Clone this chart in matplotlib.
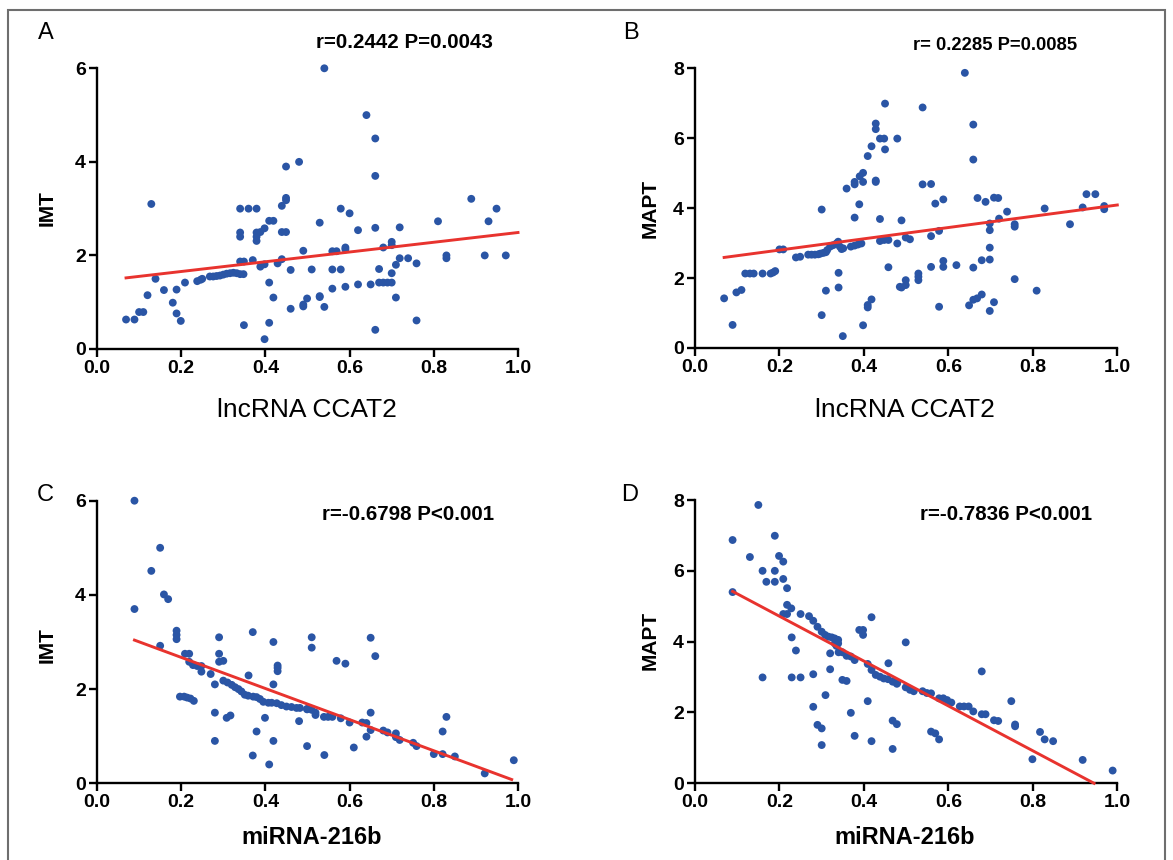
import matplotlib
matplotlib.use("Agg")
import matplotlib.pyplot as plt
from matplotlib import font_manager
from matplotlib.patches import Rectangle

# ---------------- data ----------------
x_ticks = [0.0, 0.2, 0.4, 0.6, 0.8, 1.0]
x_tick_labels = ["0.0", "0.2", "0.4", "0.6", "0.8", "1.0"]
imt_ticks = [0, 2, 4, 6]
mapt_ticks = [0, 2, 4, 6, 8]

a_x = [0.069,0.089,0.100,0.110,0.120,0.129,0.139,0.159,0.180,0.189,0.189,0.199,0.209,0.238,0.246,0.250,
       0.268,0.276,0.284,0.292,0.300,0.308,0.316,0.324,0.332,0.340,0.348,
       0.340,0.360,0.379,0.340,0.340,0.340,0.349,0.349,0.370,0.379,0.379,0.379,0.388,0.398,0.388,0.398,
       0.409,0.419,0.398,0.409,0.409,0.419,0.429,0.439,0.439,0.449,0.439,0.449,0.449,0.449,0.480,0.460,0.460,0.490,0.490,0.490,0.499,
       0.540,0.640,0.661,0.661,0.889,0.579,0.600,0.949,0.529,0.620,0.661,0.719,0.810,0.930,0.559,0.569,
       0.590,0.590,0.680,0.700,0.700,0.719,0.739,0.759,0.830,0.830,0.921,0.971,0.510,0.559,0.579,0.670,
       0.710,0.700,0.670,0.680,0.690,0.700,0.650,0.620,0.590,0.559,0.529,0.529,0.540,0.710,0.661,0.759]
a_y = [0.63,0.63,0.79,0.79,1.15,3.10,1.50,1.26,0.99,1.27,0.76,0.60,1.42,1.45,1.48,1.50,
       1.55,1.55,1.56,1.57,1.59,1.61,1.62,1.63,1.62,1.60,1.60,
       3.00,3.00,3.00,2.49,2.40,1.87,1.87,0.51,1.90,2.49,2.40,2.31,2.50,2.58,1.76,1.81,
       2.74,2.74,0.21,1.42,0.56,1.10,1.83,1.92,2.50,2.50,3.06,3.18,3.23,3.90,4.00,1.69,0.86,2.10,0.91,0.95,1.08,
       6.00,5.00,4.50,3.70,3.21,3.00,2.90,3.00,2.70,2.54,2.59,2.60,2.73,2.73,2.09,2.09,
       2.17,2.13,2.17,2.29,2.22,1.94,1.94,1.83,2.00,1.94,2.00,2.00,1.70,1.70,1.70,1.71,
       1.80,1.62,1.42,1.42,1.42,1.42,1.38,1.38,1.33,1.29,1.13,1.11,0.90,1.10,0.41,0.61]

b_x = [0.069,0.089,0.098,0.110,0.119,0.130,0.139,0.160,0.179,0.185,0.190,0.200,0.209,0.239,0.249,
       0.268,0.276,0.284,0.292,0.297,0.304,0.310,
       0.313,0.320,0.327,0.335,0.339,0.343,0.347,0.351,
       0.300,0.300,0.310,0.340,0.340,0.350,0.359,0.369,0.378,0.386,0.394,0.378,0.378,0.378,0.389,0.390,0.398,0.398,0.398,
       0.409,0.409,0.409,0.418,0.418,0.428,0.428,0.428,0.428,0.438,0.448,0.450,0.450,0.438,0.438,0.448,0.458,0.458,0.479,0.479,0.485,
       0.639,0.539,0.659,0.659,0.539,0.559,0.669,0.688,0.708,0.718,0.569,0.588,0.828,0.927,0.948,0.918,0.969,0.969,
       0.739,0.720,0.698,0.698,0.757,0.757,0.888,0.489,0.499,0.509,0.559,0.578,0.588,0.588,0.559,0.619,0.659,0.679,0.698,0.698,
       0.529,0.529,0.529,0.499,0.499,0.489,0.757,0.809,0.649,0.659,0.668,0.679,0.698,0.708,0.578]
b_y = [1.42,0.66,1.59,1.66,2.13,2.13,2.13,2.13,2.13,2.16,2.20,2.82,2.82,2.59,2.61,
       2.67,2.67,2.67,2.68,2.70,2.72,2.74,
       2.80,2.90,2.94,2.99,3.04,2.90,2.83,2.85,
       3.96,0.94,1.64,2.15,1.73,0.34,4.56,2.90,2.93,2.96,2.99,3.73,4.75,4.68,4.11,4.91,5.01,4.75,0.65,
       5.49,1.23,1.16,5.77,1.39,6.42,6.26,4.79,4.75,5.99,5.99,6.99,5.68,3.69,3.06,3.09,3.09,2.31,5.99,2.99,1.75,
       7.87,6.88,6.39,5.39,4.68,4.69,4.29,4.18,4.30,4.29,4.13,4.25,3.99,4.40,4.40,4.02,4.06,3.97,
       3.90,3.70,3.56,3.37,3.54,3.47,3.54,3.65,3.16,3.11,3.20,3.35,2.49,2.32,2.32,2.37,2.30,2.51,2.53,2.87,
       2.13,2.04,1.94,1.94,1.80,1.73,1.97,1.64,1.22,1.38,1.42,1.53,1.06,1.31,1.18]

c_x = [0.089,0.089,0.150,0.129,0.159,0.169,0.189,0.189,0.189,0.150,0.209,0.219,0.219,0.228,0.238,0.248,0.248,0.270,
       0.197,0.207,0.214,0.222,0.230,
       0.280,0.280,0.280,0.290,0.290,0.290,0.300,0.308,0.317,
       0.300,0.310,0.320,0.328,0.336,0.343,0.351,0.359,0.371,0.379,0.387,0.395,0.407,0.415,0.427,0.438,0.450,0.462,0.474,0.482,0.499,
       0.360,0.370,0.370,0.379,0.399,0.409,0.419,0.419,0.419,0.429,0.429,0.429,0.480,0.499,
       0.510,0.510,0.569,0.590,0.650,0.661,0.499,0.510,0.519,0.519,0.539,0.549,0.559,0.579,0.600,0.630,0.640,
       0.650,0.650,0.640,0.680,0.690,0.710,0.710,0.719,0.751,0.759,0.540,0.610,0.800,0.821,0.821,0.830,0.850,0.921,0.990]
c_y = [6.00,3.70,5.00,4.51,4.01,3.91,3.24,3.15,3.06,2.92,2.75,2.75,2.58,2.51,2.49,2.49,2.37,2.32,
       1.84,1.84,1.82,1.80,1.75,
       2.10,1.50,0.90,3.10,2.75,2.58,2.60,1.39,1.44,
       2.18,2.14,2.09,2.04,2.00,1.95,1.88,1.86,1.84,1.83,1.79,1.73,1.71,1.71,1.70,1.66,1.63,1.62,1.60,1.60,1.57,
       2.29,3.21,0.59,1.10,1.39,0.40,3.00,2.10,0.90,2.50,2.45,2.38,1.32,0.79,
       3.10,2.88,2.60,2.54,3.09,2.70,1.58,1.56,1.50,1.45,1.41,1.41,1.41,1.38,1.29,1.29,1.28,
       1.50,1.13,0.99,1.12,1.08,1.06,0.98,0.92,0.86,0.79,0.60,0.76,0.62,0.62,1.10,1.41,0.57,0.21,0.49]

d_x = [0.089,0.089,0.150,0.130,0.160,0.169,0.160,0.189,0.189,0.189,0.199,0.209,0.209,0.218,0.218,0.228,0.209,0.218,
       0.229,0.239,0.229,0.250,0.250,0.270,0.280,0.290,0.300,
       0.308,0.316,0.324,0.331,0.339,0.339,0.331,0.335,
       0.320,0.320,0.280,0.280,0.290,0.300,0.300,0.309,0.340,0.349,0.349,0.359,0.359,0.369,0.378,0.369,0.378,
       0.389,0.398,0.398,0.409,0.418,0.428,0.438,0.447,0.457,0.468,0.478,
       0.409,0.418,0.418,0.458,0.468,0.478,0.468,
       0.499,0.470,0.479,0.499,0.509,0.518,0.539,0.549,0.559,0.578,0.588,0.597,0.607,0.627,0.637,0.648,0.659,
       0.679,0.679,0.688,0.708,0.718,0.749,0.758,0.758,0.817,0.828,0.848,0.799,0.918,0.989,0.559,0.569,0.578]
d_y = [6.87,5.40,7.86,6.39,6.00,5.69,2.99,6.99,6.00,5.69,6.42,6.26,5.77,5.51,5.04,4.94,4.78,4.78,
       4.12,3.75,2.99,2.99,4.78,4.72,4.59,4.42,4.28,
       4.19,4.14,4.12,4.09,4.05,3.95,3.95,3.88,
       3.67,3.22,3.08,2.16,1.65,1.55,1.08,2.49,3.70,3.70,2.92,2.89,3.60,3.58,3.48,1.99,1.34,
       4.33,4.33,4.19,3.37,3.20,3.06,3.01,2.96,2.94,2.87,2.81,
       2.32,4.69,1.19,3.39,1.77,1.67,0.97,
       3.98,2.88,2.84,2.71,2.64,2.60,2.60,2.55,2.54,2.40,2.40,2.35,2.28,2.17,2.17,2.17,2.03,
       3.16,1.95,1.95,1.78,1.76,2.32,1.66,1.61,1.45,1.24,1.19,0.68,0.66,0.36,1.46,1.41,1.24]

# regression lines (end points)
a_fit_x, a_fit_y = [0.069, 1.0], [1.52, 2.49]
b_fit_x, b_fit_y = [0.069, 1.0], [2.59, 4.09]
c_fit_x, c_fit_y = [0.089, 0.985], [3.04, 0.08]
d_fit_x, d_fit_y = [0.089, 0.945], [5.42, 0.0]

panel_letters = ["A", "B", "C", "D"]
stats_texts = ["r=0.2442 P=0.0043", "r= 0.2285 P=0.0085", "r=-0.6798 P<0.001", "r=-0.7836 P<0.001"]
y_labels = ["IMT", "MAPT", "IMT", "MAPT"]
x_labels = ["lncRNA CCAT2", "lncRNA CCAT2", "miRNA-216b", "miRNA-216b"]

# ---------------- style ----------------
names = {f.name for f in font_manager.fontManager.ttflist}
BASE = "Liberation Sans" if "Liberation Sans" in names else "DejaVu Sans"
NARROW = "Liberation Sans Narrow" if "Liberation Sans Narrow" in names else BASE
plt.rcParams["font.family"] = [BASE, "DejaVu Sans"]

W, H = 1173, 860
fig = plt.figure(figsize=(W / 100, H / 100), dpi=100)
fig.patch.set_facecolor("white")

def fx(px):
    return px / W

def fy(py):
    return 1 - py / H

# gray border frame
fig.add_artist(Rectangle((fx(8), fy(870)), fx(1165) - fx(8), fy(10) - fy(870),
                         transform=fig.transFigure, fill=False, edgecolor="#6e6e6e", linewidth=1.5))

BLUE = "#2a55a5"
RED = "#e8332e"

panels = [
    dict(rect=(97, 518, 68.3, 349), x=a_x, y=a_y, fx_=a_fit_x, fy_=a_fit_y, ymax=6, yt=imt_ticks, narrow=False),
    dict(rect=(695, 1117.3, 68.3, 348), x=b_x, y=b_y, fx_=b_fit_x, fy_=b_fit_y, ymax=8, yt=mapt_ticks, narrow=False),
    dict(rect=(97, 518, 500.7, 783.3), x=c_x, y=c_y, fx_=c_fit_x, fy_=c_fit_y, ymax=6, yt=imt_ticks, narrow=True),
    dict(rect=(695, 1117.3, 500, 783.3), x=d_x, y=d_y, fx_=d_fit_x, fy_=d_fit_y, ymax=8, yt=mapt_ticks, narrow=True),
]

letter_pos = [(46, 33), (631, 33), (45, 495), (630, 495)]
stats_pos = [(404, 43), (995, 45), (408, 515), (1006, 515)]
stats_size = [14.8, 13.2, 14.8, 14.8]
ylab_pos = [(47, 208), (650, 208), (47, 645), (650, 640)]
xlab_pos = [(307, 410), (905, 410), (312, 838), (905, 838)]

for i, p in enumerate(panels):
    l, r, t, b = p["rect"]
    ax = fig.add_axes([fx(l), fy(b), fx(r) - fx(l), fy(t) - fy(b)])
    ax.set_xlim(0, 1)
    ax.set_ylim(0, p["ymax"])
    for s in ["top", "right"]:
        ax.spines[s].set_visible(False)
    for s in ["left", "bottom"]:
        ax.spines[s].set_linewidth(1.7)
        ax.spines[s].set_color("black")
    ax.scatter(p["x"], p["y"], s=32, color=BLUE, edgecolors="none", zorder=3, clip_on=False)
    ax.plot(p["fx_"], p["fy_"], color=RED, linewidth=2.1, zorder=4, clip_on=False)
    ax.set_xticks(x_ticks)
    ax.set_yticks(p["yt"])
    tick_family = [NARROW, BASE] if p["narrow"] else [BASE]
    ax.set_xticklabels(x_tick_labels, fontweight="bold", fontsize=14, family=tick_family)
    ax.set_yticklabels([str(v) for v in p["yt"]], fontweight="bold", fontsize=14, family=[BASE])
    ax.tick_params(direction="out", length=6, width=1.7, pad=2, colors="black")
    ax.patch.set_alpha(0)

    fig.text(fx(letter_pos[i][0]), fy(letter_pos[i][1]), panel_letters[i], fontsize=17,
             ha="center", va="center")
    fig.text(fx(stats_pos[i][0]), fy(stats_pos[i][1]), stats_texts[i], fontsize=stats_size[i],
             fontweight="bold", ha="center", va="center")
    fig.text(fx(ylab_pos[i][0]), fy(ylab_pos[i][1]), y_labels[i], fontsize=15,
             fontweight="bold", ha="center", va="center", rotation=90)
    if p["narrow"]:
        fig.text(fx(xlab_pos[i][0]), fy(xlab_pos[i][1]), x_labels[i], fontsize=17,
                 fontweight="bold", ha="center", va="center", family=[NARROW, BASE])
    else:
        fig.text(fx(xlab_pos[i][0]), fy(xlab_pos[i][1]), x_labels[i], fontsize=19,
                 ha="center", va="center")

fig.savefig("out.png", dpi=100, facecolor="white")
